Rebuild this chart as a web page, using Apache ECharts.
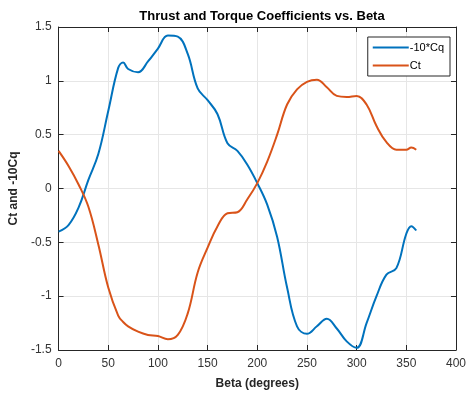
<!DOCTYPE html>
<html>
<head>
<meta charset="utf-8">
<script src="https://cdn.jsdelivr.net/npm/echarts@6/dist/echarts.min.js"></script>
<style>
  html, body { margin: 0; padding: 0; background: #fff; }
  #chart { width: 469px; height: 398px; }
</style>
</head>
<body>
<div id="chart"></div>
<script>
// beta angles (degrees) and the two curves
const beta = [0, 10, 20, 30, 40, 50, 60, 65, 70, 80, 90, 100, 110, 120, 130, 140, 150, 160, 170, 180,
  190, 200, 210, 220, 230, 240, 250, 260, 270, 280, 290, 300, 310, 320, 330, 340, 350, 355, 360];
const negTenCq = [-0.40, -0.34, -0.18, 0.08, 0.32, 0.72, 1.12, 1.17, 1.11, 1.08, 1.18, 1.30, 1.42, 1.41, 1.25, 0.93, 0.82, 0.69, 0.42, 0.35,
  0.22, 0.05, -0.15, -0.45, -0.92, -1.28, -1.35, -1.28, -1.21, -1.30, -1.42, -1.48, -1.25, -1.00, -0.80, -0.74, -0.42, -0.35, -0.39];
const ct = [0.35, 0.21, 0.04, -0.17, -0.52, -0.92, -1.18, -1.24, -1.28, -1.33, -1.36, -1.37, -1.40, -1.36, -1.16, -0.78, -0.55, -0.35, -0.23, -0.22,
  -0.10, 0.05, 0.25, 0.50, 0.78, 0.92, 0.99, 1.01, 0.94, 0.86, 0.85, 0.86, 0.78, 0.58, 0.43, 0.36, 0.36, 0.38, 0.36];

const xTicks = [0, 50, 100, 150, 200, 250, 300, 350, 400];
const yTicks = [-1.5, -1, -0.5, 0, 0.5, 1, 1.5];

const pairs = (xs, ys) => xs.map((x, i) => [x, ys[i]]);

const axisColor = "#262626";
const gridColor = "#e6e6e6";
const font = "Arial, 'Liberation Sans', sans-serif";

const boxAxis = {
  axisLine: { show: true, onZero: false, lineStyle: { color: axisColor } },
  axisTick: { show: true, inside: true, length: 5, lineStyle: { color: axisColor } },
  axisLabel: { show: false },
  splitLine: { show: false },
};

var myChart = echarts.init(document.getElementById("chart"));
myChart.setOption({
  animation: false,
  backgroundColor: "#fff",
  title: {
    text: "Thrust and Torque Coefficients vs. Beta",
    left: 257,
    textAlign: "center",
    top: 5,
    textStyle: { fontFamily: font, fontSize: 13, fontWeight: "bold", color: "#000" },
  },
  legend: {
    orient: "vertical",
    right: 19,
    top: 37,
    padding: [5, 6, 5, 5],
    itemGap: 7,
    itemWidth: 36,
    itemHeight: 2,
    icon: "rect",
    backgroundColor: "#fff",
    borderColor: axisColor,
    borderWidth: 1,
    borderRadius: 0,
    textStyle: { fontFamily: font, fontSize: 11, color: "#000", padding: [0, 0, 0, -4] },
  },
  grid: { left: 57, right: 10, top: 27, bottom: 48, containLabel: false },
  xAxis: [
    {
      type: "value",
      min: 0,
      max: 400,
      interval: 50,
      name: "Beta (degrees)",
      nameLocation: "middle",
      nameGap: 28,
      nameTextStyle: { fontFamily: font, fontSize: 12, fontWeight: "bold", color: "#262626" },
      axisLine: { show: true, onZero: false, lineStyle: { color: axisColor } },
      axisTick: { show: true, inside: true, length: 5, lineStyle: { color: axisColor } },
      axisLabel: { fontFamily: font, fontSize: 12, color: "#333", margin: 8, showMaxLabel: true, showMinLabel: true,
        formatter: (v) => (xTicks.includes(v) ? String(v) : "") },
      splitLine: { show: true, lineStyle: { color: gridColor } },
    },
    Object.assign({ type: "value", position: "top", min: 0, max: 400, interval: 50 }, boxAxis),
  ],
  yAxis: [
    {
      type: "value",
      min: -1.5,
      max: 1.5,
      interval: 0.5,
      name: "Ct and -10Cq",
      nameLocation: "middle",
      nameGap: 33,
      nameRotate: 90,
      nameTextStyle: { fontFamily: font, fontSize: 12, fontWeight: "bold", color: "#262626" },
      axisLine: { show: true, onZero: false, lineStyle: { color: axisColor } },
      axisTick: { show: true, inside: true, length: 5, lineStyle: { color: axisColor } },
      axisLabel: { fontFamily: font, fontSize: 12, color: "#333", margin: 7,
        formatter: (v) => (yTicks.includes(v) ? String(v) : "") },
      splitLine: { show: true, lineStyle: { color: gridColor } },
    },
    Object.assign({ type: "value", position: "right", min: -1.5, max: 1.5, interval: 0.5 }, boxAxis),
  ],
  series: [
    {
      name: "-10*Cq",
      type: "line",
      data: pairs(beta, negTenCq),
      smooth: 0.4,
      symbol: "none",
      color: "#0072BD",
      lineStyle: { width: 2 },
    },
    {
      name: "Ct",
      type: "line",
      data: pairs(beta, ct),
      smooth: 0.4,
      symbol: "none",
      color: "#D95319",
      lineStyle: { width: 2 },
    },
  ],
});
</script>
</body>
</html>
